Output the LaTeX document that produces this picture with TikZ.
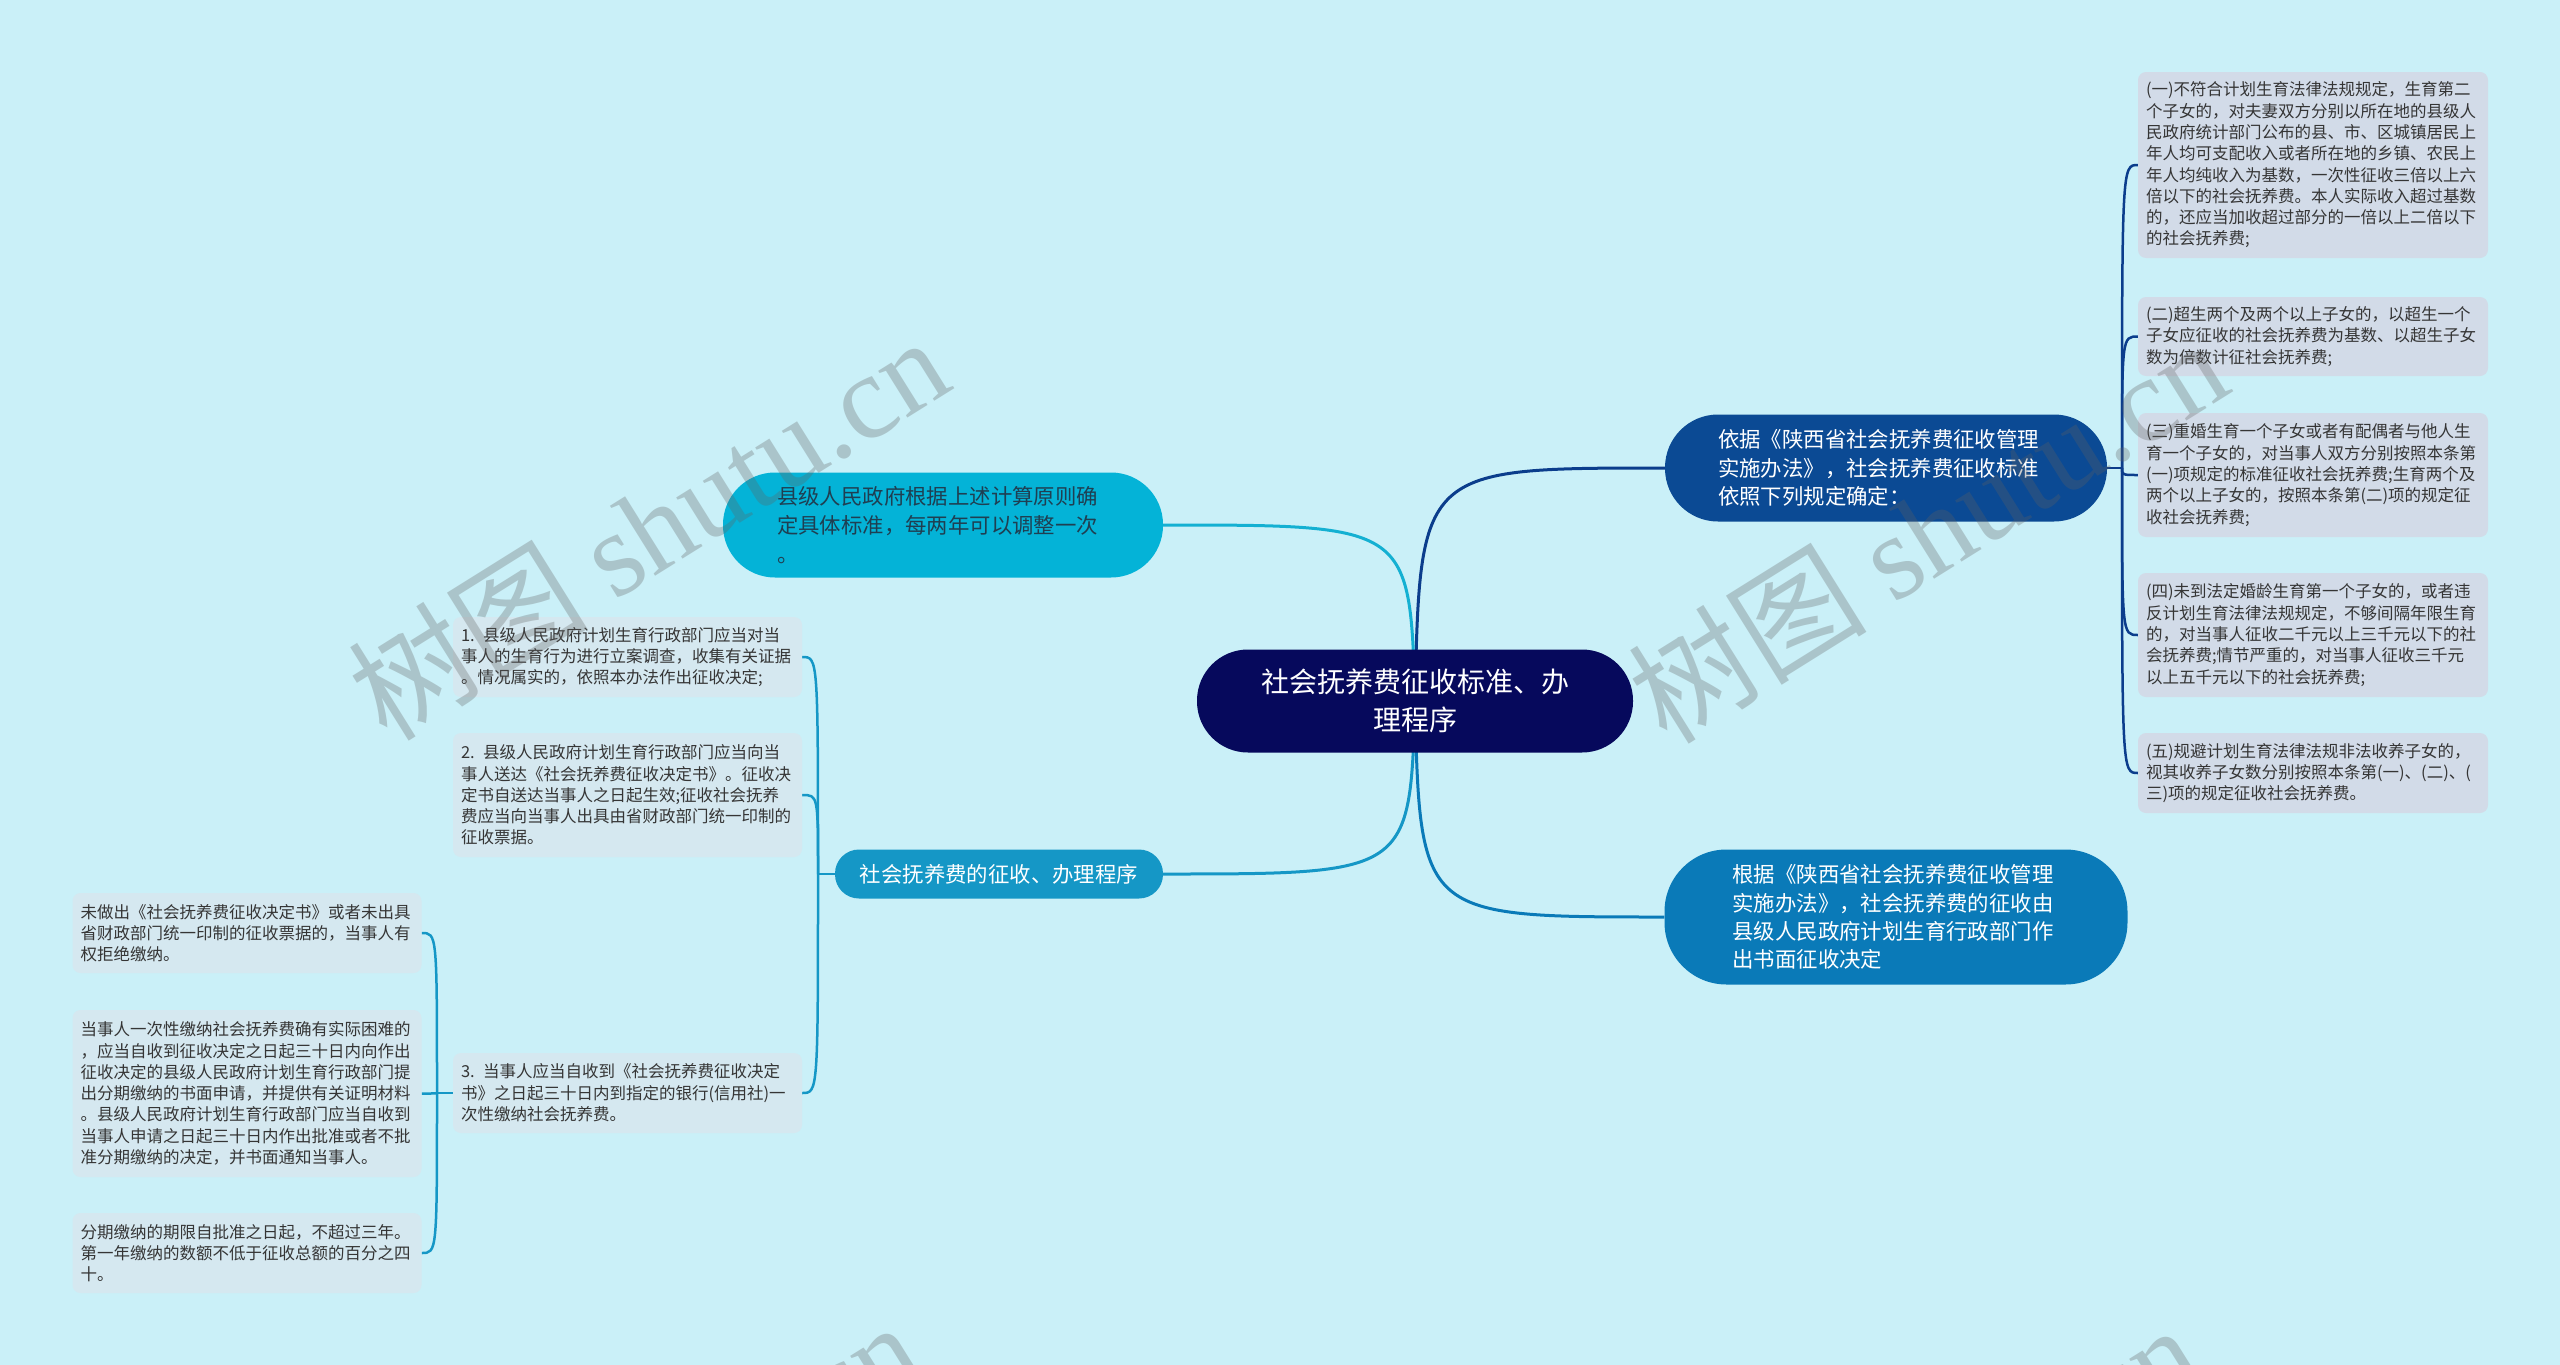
\documentclass[tikz,border=0pt]{standalone}
\usepackage{fontspec}
\setmainfont{Noto Sans CJK SC}
\newfontfamily\cjk{Noto Sans CJK SC}
\newfontfamily\wmfont{Liberation Serif}
\usetikzlibrary{backgrounds}
\definecolor{bgc}{HTML}{CAF0F8}
\definecolor{centc}{HTML}{06095C}
\definecolor{nodeA}{HTML}{0B4A94}
\definecolor{nodeB}{HTML}{0A7AB8}
\definecolor{nodeC}{HTML}{04B3D7}
\definecolor{nodeD}{HTML}{1597C6}
\definecolor{leafRc}{HTML}{D2DBE8}
\definecolor{leafLc}{HTML}{D5E8F0}
\definecolor{txt}{HTML}{353535}
\definecolor{txtC}{HTML}{1F3F52}
\definecolor{lnA}{HTML}{0B3D8C}
\definecolor{lnB}{HTML}{0A7AB8}
\definecolor{lnC}{HTML}{14B0D2}
\definecolor{lnD}{HTML}{1597C6}
\tikzset{
  leafR/.style={fill=leafRc, rounded corners=8pt, text=txt, font=\fontsize{16.5}{21.3}\selectfont, align=left, inner xsep=8pt, inner ysep=0pt, text width=334pt},
  leafL/.style={fill=leafLc, rounded corners=8pt, text=txt, font=\fontsize{16.5}{21.3}\selectfont, align=left, inner xsep=8pt, inner ysep=0pt, text width=333pt},
  pill/.style={inner ysep=0pt, align=left},
  mainln/.style={line width=3pt},
  leafln/.style={line width=2.5pt},
  wm/.style={text=black!62, opacity=0.3, font=\fontsize{120}{130}\selectfont, inner sep=0pt}
}
\begin{document}
\begin{tikzpicture}[x=1pt,y=-1pt]
\useasboundingbox (0,0) rectangle (2560,1365);

% central
\node[fill=centc, rounded corners=51pt, minimum width=436pt, minimum height=103pt, text=white, align=center, inner ysep=0pt, font=\fontsize{28}{38}\selectfont] (c) at (1415,701) {社会抚养费征收标准、办\\理程序};

% first level
\node[pill, fill=nodeA, rounded corners=53pt, inner xsep=53pt, text width=336pt, minimum height=107pt, text=white, font=\fontsize{21.4}{28.5}\selectfont] (A) at (1886,468) {依据《陕西省社会抚养费征收管理\\实施办法》，社会抚养费征收标准\\依照下列规定确定：};
\node[pill, fill=nodeB, rounded corners=62pt, inner xsep=68pt, text width=327pt, minimum height=135pt, text=white, font=\fontsize{21.4}{28.2}\selectfont] (B) at (1896,917) {根据《陕西省社会抚养费征收管理\\实施办法》，社会抚养费的征收由\\县级人民政府计划生育行政部门作\\出书面征收决定};
\node[pill, fill=nodeC, rounded corners=52pt, inner xsep=54pt, text width=332pt, minimum height=105pt, text=txtC, font=\fontsize{21.4}{29}\selectfont] (C) at (943,525) {县级人民政府根据上述计算原则确\\定具体标准，每两年可以调整一次\\。};
\node[fill=nodeD, rounded corners=24pt, minimum width=328pt, minimum height=49pt, inner ysep=0pt, text=white, font=\fontsize{21.4}{26}\selectfont] (D) at (999,874) {社会抚养费的征收、办理程序};

% right leaves
\node[leafR, minimum height=186pt] (R1) at (2313,165) {(一)不符合计划生育法律法规规定，生育第二\\个子女的，对夫妻双方分别以所在地的县级人\\民政府统计部门公布的县、市、区城镇居民上\\年人均可支配收入或者所在地的乡镇、农民上\\年人均纯收入为基数，一次性征收三倍以上六\\倍以下的社会抚养费。本人实际收入超过基数\\的，还应当加收超过部分的一倍以上二倍以下\\的社会抚养费;};
\node[leafR, minimum height=79pt] (R2) at (2313,336.5) {(二)超生两个及两个以上子女的，以超生一个\\子女应征收的社会抚养费为基数、以超生子女\\数为倍数计征社会抚养费;};
\node[leafR, minimum height=124pt] (R3) at (2313,475) {(三)重婚生育一个子女或者有配偶者与他人生\\育一个子女的，对当事人双方分别按照本条第\\(一)项规定的标准征收社会抚养费;生育两个及\\两个以上子女的，按照本条第(二)项的规定征\\收社会抚养费;};
\node[leafR, minimum height=124pt] (R4) at (2313,635) {(四)未到法定婚龄生育第一个子女的，或者违\\反计划生育法律法规规定，不够间隔年限生育\\的，对当事人征收二千元以上三千元以下的社\\会抚养费;情节严重的，对当事人征收三千元\\以上五千元以下的社会抚养费;};
\node[leafR, minimum height=80pt] (R5) at (2313,773) {(五)规避计划生育法律法规非法收养子女的，\\视其收养子女数分别按照本条第(一)、(二)、(\\三)项的规定征收社会抚养费。};

% left leaves
\node[leafL, minimum height=80pt] (L1) at (627.5,657) {1. 县级人民政府计划生育行政部门应当对当\\事人的生育行为进行立案调查，收集有关证据\\。情况属实的，依照本办法作出征收决定;};
\node[leafL, minimum height=124pt] (L2) at (627.5,795) {2. 县级人民政府计划生育行政部门应当向当\\事人送达《社会抚养费征收决定书》。征收决\\定书自送达当事人之日起生效;征收社会抚养\\费应当向当事人出具由省财政部门统一印制的\\征收票据。};
\node[leafL, minimum height=80pt] (L3) at (627.5,1093) {3. 当事人应当自收到《社会抚养费征收决定\\书》之日起三十日内到指定的银行(信用社)一\\次性缴纳社会抚养费。};

\node[leafL, minimum height=80pt] (LL1) at (247,933) {未做出《社会抚养费征收决定书》或者未出具\\省财政部门统一印制的征收票据的，当事人有\\权拒绝缴纳。};
\node[leafL, minimum height=167pt] (LL2) at (247,1093.5) {当事人一次性缴纳社会抚养费确有实际困难的\\，应当自收到征收决定之日起三十日内向作出\\征收决定的县级人民政府计划生育行政部门提\\出分期缴纳的书面申请，并提供有关证明材料\\。县级人民政府计划生育行政部门应当自收到\\当事人申请之日起三十日内作出批准或者不批\\准分期缴纳的决定，并书面通知当事人。};
\node[leafL, minimum height=80pt] (LL3) at (247,1253) {分期缴纳的期限自批准之日起，不超过三年。\\第一年缴纳的数额不低于征收总额的百分之四\\十。};

\coordinate (jA) at (2122,468);
\coordinate (jD) at (818,874);
\coordinate (jL) at (437,1093);

\begin{scope}[on background layer]
\fill[bgc] (0,0) rectangle (2560,1365);
\draw[mainln, lnA] (c.center) .. controls (1420,468) .. (A.west);
\draw[mainln, lnB] (c.center) .. controls (1420,917) .. (B.west);
\draw[mainln, lnC] (c.center) .. controls (1410,525) .. (C.east);
\draw[mainln, lnD] (c.center) .. controls (1410,874) .. (D.east);
\draw[leafln, lnA] (A.east) -- (jA);
\foreach \n in {R1,R2,R3,R4,R5}
  \draw[leafln, lnA] (jA) .. controls (jA |- \n.west) .. (\n.west);
\draw[leafln, lnD] (D.west) -- (jD);
\foreach \n in {L1,L2,L3}
  \draw[leafln, lnD] (jD) .. controls (jD |- \n.east) .. (\n.east);
\draw[leafln, lnD] (L3.west) -- (jL);
\foreach \n in {LL1,LL2,LL3}
  \draw[leafln, lnD] (jL) .. controls (jL |- \n.east) .. (\n.east);
\end{scope}

% watermarks
\begin{scope}
\clip (0,0) rectangle (2560,1365);
\node[wm, rotate=32] (wm1) at (648,527) {\cjk 树图 \wmfont shutu.cn};
\node[wm, rotate=32] (wm2) at (1927,530) {\cjk 树图 \wmfont shutu.cn};
\node[wm, rotate=32] (wm3) at (620,1512) {\cjk 树图 \wmfont shutu.cn};
\node[wm, rotate=32] (wm4) at (1899,1515) {\cjk 树图 \wmfont shutu.cn};
\end{scope}
\end{tikzpicture}
\end{document}
